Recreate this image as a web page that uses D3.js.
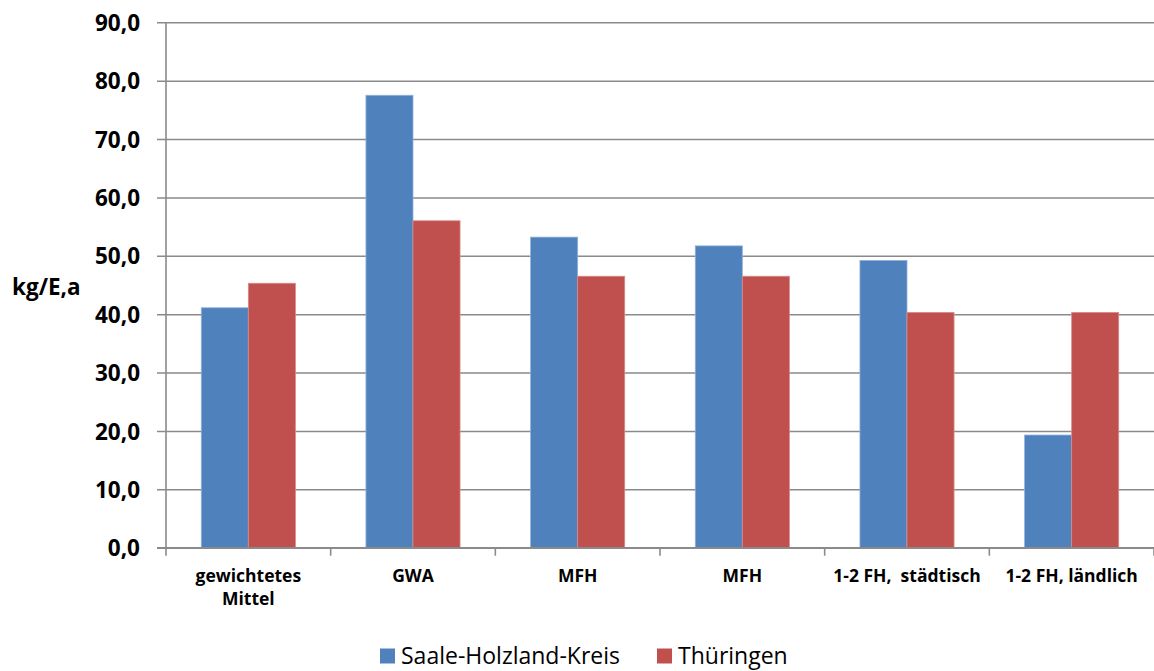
<!DOCTYPE html>
<html>
<head>
<meta charset="utf-8">
<script src="https://cdn.jsdelivr.net/npm/d3@7"></script>
<style>
  html, body { margin: 0; padding: 0; background: #fff; }
  svg { display: block; }
  text { font-family: "Open Sans", "Liberation Sans", sans-serif; fill: #000; white-space: pre; }
</style>
</head>
<body>
<svg id="chart" width="1154" height="671"></svg>
<script>
const categories = [["gewichtetes", "Mittel"], ["GWA"], ["MFH"], ["MFH"], ["1-2 FH,  städtisch"], ["1-2 FH, ländlich"]];
const seriesNames = ["Saale-Holzland-Kreis", "Thüringen"];
const saaleValues = [41.1, 77.5, 53.2, 51.7, 49.2, 19.3];
const thueringenValues = [45.3, 56.0, 46.5, 46.5, 40.3, 40.3];
const yTicks = [0, 10, 20, 30, 40, 50, 60, 70, 80, 90];
const yTitle = "kg/E,a";
const colors = ["#4F81BD", "#C0504D"];
const strokeColors = ["#8fb0d9", "#d98a88"];

(function () {
const seriesValues = [saaleValues, thueringenValues];
const catIds = categories.map((c, i) => i);

const svg = d3.select("#chart");
const mLeft = 166, mRight = 1154, mTop = 22.3, mBottom = 547.7;

const y = d3.scaleLinear().domain([0, 90]).range([mBottom, mTop]);
const x0 = d3.scaleBand().domain(catIds).range([mLeft, mRight]).padding(0);
const x1 = d3.scaleBand().domain(d3.range(seriesNames.length)).range([0, x0.bandwidth()]).paddingInner(0).paddingOuter(0.75);

// Gridlines + y axis
const yAxis = d3.axisLeft(y).tickValues(yTicks).tickSize(-(mRight - mLeft)).tickSizeOuter(0)
  .tickFormat(d => d3.format(".1f")(d).replace(".", ","));
const gy = svg.append("g").attr("transform", `translate(${mLeft},0)`).call(yAxis);
gy.select(".domain").remove();
gy.selectAll(".tick line").attr("stroke", "#8a8a8a").attr("stroke-width", 1.6).attr("x1", -9);
gy.selectAll(".tick text").attr("x", -26).attr("dy", "0.36em")
  .style("font-size", "22.5px").style("font-weight", "bold").attr("fill", "#000");

// vertical axis line
svg.append("line").attr("x1", mLeft).attr("x2", mLeft).attr("y1", mTop).attr("y2", mBottom)
  .attr("stroke", "#8a8a8a").attr("stroke-width", 1.6);

// Bars
const groups = svg.append("g").selectAll("g").data(catIds).join("g")
  .attr("transform", d => `translate(${x0(d)},0)`);
groups.selectAll("rect").data(ci => seriesValues.map((vals, si) => ({ si, v: vals[ci] }))).join("rect")
  .attr("x", d => x1(d.si))
  .attr("width", x1.bandwidth())
  .attr("y", d => y(d.v))
  .attr("height", d => y(0) - y(d.v))
  .attr("fill", d => colors[d.si])
  .attr("stroke", d => strokeColors[d.si])
  .attr("stroke-width", 0.8);

// bottom axis line over bars
svg.append("line").attr("x1", mLeft - 9).attr("x2", mRight).attr("y1", mBottom).attr("y2", mBottom)
  .attr("stroke", "#8a8a8a").attr("stroke-width", 1.6);

// Category ticks at boundaries
const boundaries = catIds.map(i => x0(i)).concat([mRight]);
svg.append("g").selectAll("line").data(boundaries).join("line")
  .attr("x1", d => d).attr("x2", d => d).attr("y1", mBottom).attr("y2", mBottom + 8)
  .attr("stroke", "#8a8a8a").attr("stroke-width", 1.6);

// Category labels
const catLabels = svg.append("g").selectAll("text").data(catIds).join("text")
  .attr("x", d => x0(d) + x0.bandwidth() / 2)
  .attr("y", 582)
  .attr("text-anchor", "middle")
  .style("font-size", "17.5px").style("font-weight", "bold");
catLabels.each(function(d) {
  const t = d3.select(this);
  categories[d].forEach((line, li) => {
    t.append("tspan").attr("x", x0(d) + x0.bandwidth() / 2).attr("dy", li === 0 ? 0 : 23).text(line);
  });
});

// Y title
svg.append("text").attr("x", 12).attr("y", 295).text(yTitle)
  .style("font-size", "22.5px").style("font-weight", "bold");

// Legend
const legendItems = [{ x: 380, tx: 401 }, { x: 657, tx: 678 }];
const lg = svg.append("g").selectAll("g").data(seriesNames).join("g");
lg.append("rect").attr("x", (d, i) => legendItems[i].x).attr("y", 648.5).attr("width", 15).attr("height", 15)
  .attr("fill", (d, i) => colors[i]);
lg.append("text").attr("x", (d, i) => legendItems[i].tx).attr("y", 664).text(d => d)
  .style("font-size", "23px");
})();
</script>
</body>
</html>
